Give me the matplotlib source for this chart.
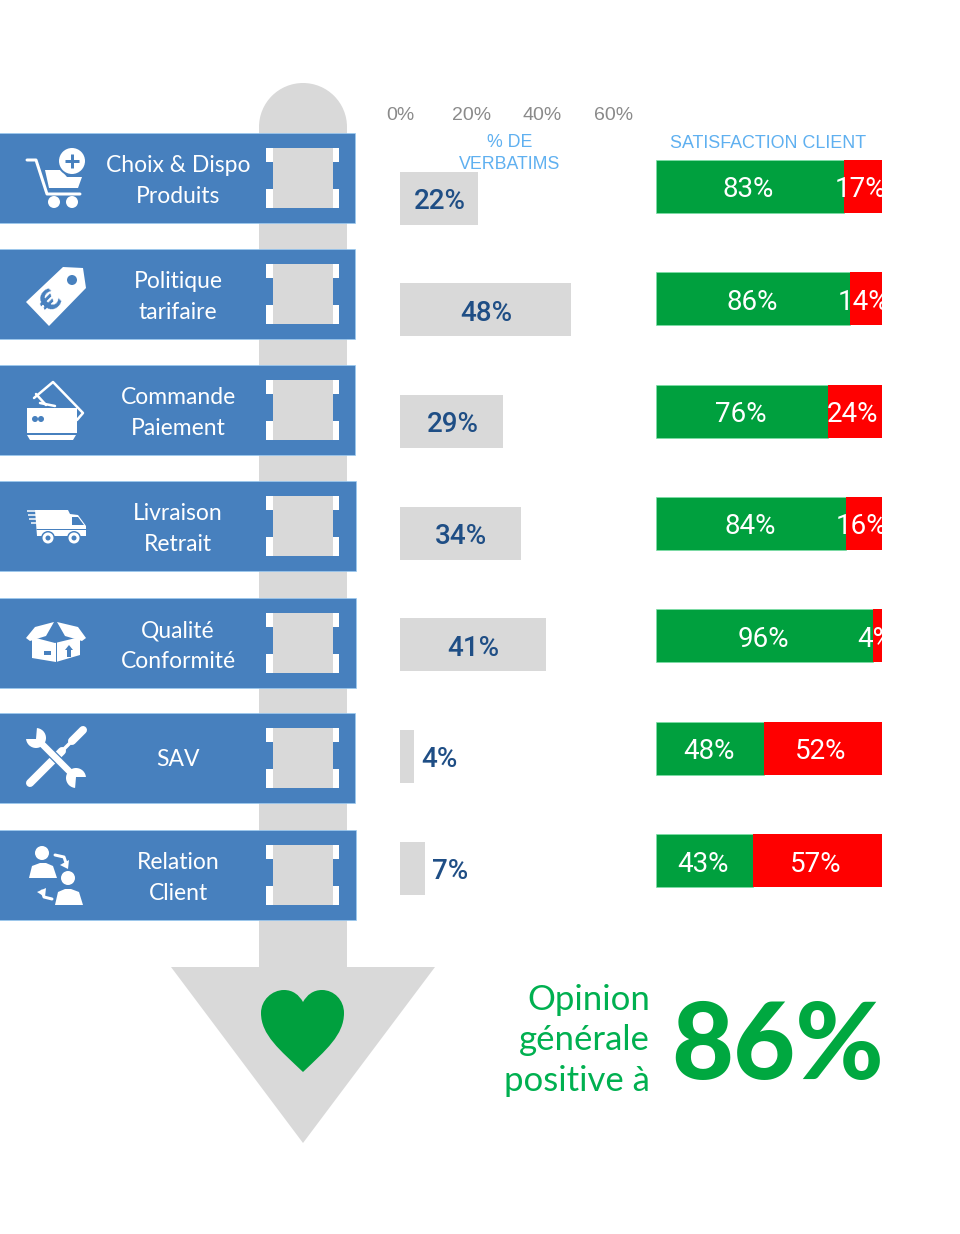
import numpy as np
from matplotlib import pyplot as plt
from matplotlib.patches import Rectangle, Polygon, Circle, Wedge, PathPatch
from matplotlib.path import Path

categories = ['Choix & Dispo\nProduits', 'Politique\ntarifaire', 'Commande\nPaiement',
              'Livraison\nRetrait', 'Qualité\nConformité', 'SAV', 'Relation\nClient']
verbatims = [22, 48, 29, 34, 41, 4, 7]
positive = [83, 86, 76, 84, 96, 48, 43]
negative = [17, 14, 24, 16, 4, 52, 57]
verbatim_ticks = [0, 20, 40, 60]
overall = 86

W, H = 960, 1234
GREY = '#D9D9D9'
BLUE = '#4780BE'
NAVY = '#1F4E85'
GREEN = '#00A03E'
RED = '#FF0000'
LIGHT = '#5FB0F0'
VALUE_FONT = 'Roboto'
VALUE_SIZE = 20


def pixel_axes(fig, left, top, right, bottom):
    ax = fig.add_axes([left / W, 1 - bottom / H, (right - left) / W, (bottom - top) / H])
    ax.patch.set_visible(False)
    for s in ax.spines.values():
        s.set_visible(False)
    return ax


def poly(ax, pts, color='white', z=5):
    ax.add_patch(Polygon(pts, closed=True, fc=color, ec='none', zorder=z))


def line(ax, xs, ys, width, color='white', z=5, cap='round'):
    ax.plot(xs, ys, color=color, lw=width * 0.72, zorder=z, solid_capstyle=cap, solid_joinstyle='round')


def dot(ax, x, y, r, color='white', z=5):
    ax.add_patch(Circle((x, y), r, fc=color, ec='none', zorder=z))


def icon_cart(ax):
    line(ax, [27, 36, 47, 80], [160, 160, 194, 194], 3)
    poly(ax, [(45, 170), (61, 170), (67, 177), (82, 177), (78, 188), (49, 188)])
    dot(ax, 72, 161, 15, BLUE, 6)
    dot(ax, 72, 161, 13, 'white', 7)
    line(ax, [65, 79], [161, 161], 3, BLUE, 8, 'butt')
    line(ax, [72, 72], [154, 168], 3, BLUE, 8, 'butt')
    dot(ax, 54, 202, 6)
    dot(ax, 72, 202, 6)


def icon_tag(ax):
    poly(ax, [(26, 302), (63, 267), (83, 268), (86, 288), (49, 326)])
    dot(ax, 72, 280, 5, BLUE, 6)
    ax.text(52, 302, '€', color=BLUE, fontsize=20, fontweight='bold', rotation=45,
            ha='center', va='center', zorder=6)


def icon_card(ax):
    line(ax, [34, 53, 83, 77], [398, 382, 413, 420], 2.5)
    line(ax, [40, 55], [403, 406], 2.5)
    line(ax, [36, 46], [394, 405], 2.5)
    ax.add_patch(Rectangle((27, 408), 50, 25, fc='white', ec='none', zorder=5))
    poly(ax, [(27, 435), (76, 435), (73, 440), (30, 440)])
    dot(ax, 35, 419, 3, BLUE, 6)
    dot(ax, 41, 419, 3, BLUE, 6)


def icon_truck(ax):
    poly(ax, [(35, 510), (68, 510), (70, 514), (78, 515), (86, 526), (86, 536), (37, 536)])
    poly(ax, [(72, 517), (78, 517), (84, 525), (72, 525)], BLUE, 6)
    line(ax, [36, 86], [529, 529], 1, BLUE, 6, 'butt')
    for y, x0 in zip([511, 515, 519, 523], [27, 28, 29, 31]):
        line(ax, [x0, 45], [y, y], 1.5, 'white', 4, 'butt')
    for x in (48, 74):
        dot(ax, x, 538, 7, BLUE, 6)
        dot(ax, x, 538, 5.5, 'white', 7)
        dot(ax, x, 538, 2.5, BLUE, 8)


def icon_box(ax):
    poly(ax, [(32, 637), (55, 643), (80, 637), (80, 655), (56, 662), (32, 658)])
    poly(ax, [(26, 638), (35, 627), (54, 622), (46, 636), (30, 641)])
    poly(ax, [(86, 638), (78, 627), (57, 622), (65, 636), (82, 641)])
    line(ax, [55.5, 55.5], [623, 662], 1, BLUE, 6, 'butt')
    poly(ax, [(69, 645), (73, 650), (71, 650), (71, 657), (67, 657), (67, 650), (65, 650)], BLUE, 6)
    ax.add_patch(Rectangle((44, 651), 7, 4, fc=BLUE, ec='none', zorder=6))


def icon_tools(ax):
    line(ax, [30, 62], [783, 751], 8)
    line(ax, [62, 72], [751, 741], 3.5)
    line(ax, [72, 83], [741, 730], 8)
    line(ax, [36, 78], [738, 780], 9, BLUE, 5.5)
    line(ax, [36, 78], [738, 780], 6.5, 'white', 6, 'butt')
    dot(ax, 36, 738, 10, 'white', 6)
    dot(ax, 76, 778, 10, 'white', 6)
    poly(ax, [(36, 739), (25, 739), (25, 727), (37, 727)], BLUE, 7)
    poly(ax, [(76, 777), (87, 777), (87, 789), (75, 789)], BLUE, 7)


def icon_people(ax):
    dot(ax, 42, 853, 7)
    poly(ax, [(29, 878), (32, 866), (40, 863), (46, 863), (53, 866), (57, 878)])
    dot(ax, 68, 878, 7)
    poly(ax, [(55, 905), (58, 892), (65, 889), (71, 889), (79, 892), (83, 905)])
    line(ax, [55, 64, 66], [855, 857, 863], 3)
    poly(ax, [(60, 865), (69, 860), (68, 869)])
    line(ax, [52, 44, 42], [899, 897, 891], 3)
    poly(ax, [(37, 892), (46, 888), (45, 897)])


icons = [icon_cart, icon_tag, icon_card, icon_truck, icon_box, icon_tools, icon_people]
band_tops = [133, 249, 365, 481, 598, 713, 830]
band_rights = [355, 355, 355, 356, 356, 355, 356]

fig = plt.figure(figsize=(W / 100, H / 100), dpi=100, facecolor='white')

# background shapes, in pixels
bg = pixel_axes(fig, 0, 0, W, H)
bg.set_xlim(0, W)
bg.set_ylim(H, 0)
bg.axis('off')

bg.add_patch(Rectangle((259, 127), 88, 850, fc=GREY, ec='none', zorder=1))
bg.add_patch(Wedge((303, 127), 44, 180, 360, fc=GREY, ec='none', zorder=1))
poly(bg, [(171, 967), (435, 967), (303, 1143)], GREY, 1)

# heart
heart = Path([(303, 1072), (280, 1050), (261, 1035), (261, 1013), (261, 1000), (272, 990), (284, 990),
              (293, 990), (299, 995), (303, 1002), (307, 995), (313, 990), (322, 990),
              (334, 990), (344, 1000), (344, 1013), (344, 1035), (326, 1050), (303, 1072)],
             [Path.MOVETO] + [Path.CURVE4] * 18)
bg.add_patch(PathPatch(heart, fc=GREEN, ec='none', zorder=2))

for i, top in enumerate(band_tops):
    bg.add_patch(Rectangle((-3, top), band_rights[i] + 3, 90, fc=BLUE, ec='#9CCBF2', lw=0.5, zorder=3))
    # white notched frame
    for x in (266, 332):
        bg.add_patch(Rectangle((x, top + 15), 6.5, 14, fc='white', ec='none', zorder=4))
        bg.add_patch(Rectangle((x, top + 56), 6.5, 19, fc='white', ec='none', zorder=4))
    bg.add_patch(Rectangle((272.5, top + 15), 60, 60, fc=GREY, ec='none', zorder=4))
    y_text = top + 48 if '\n' in categories[i] else top + 46
    bg.text(178, y_text, categories[i], color='white', fontsize=16.5, family='Lato',
            ha='center', va='center', linespacing=1.55, zorder=6)
    icons[i](bg)

# share of verbatims
ax1 = pixel_axes(fig, 400, 142.2, 400 + 60 * 3.56, 924)
rows = np.arange(len(categories))
ax1.barh(rows, verbatims, height=53 / 111.67, color=GREY)
ax1.set_xlim(0, 60)
ax1.set_ylim(6.5, -0.5)
ax1.xaxis.tick_top()
ax1.set_xticks(verbatim_ticks)
ax1.set_xticklabels(['%d%%' % t for t in verbatim_ticks], color='#8A8A8A', fontsize=14, family='Liberation Sans')
ax1.tick_params(axis='x', length=0, pad=13)
ax1.set_yticks([])
for r, v in zip(rows, verbatims):
    if v < 10:
        ax1.text(v + 1.9, r + 0.03, '%d%%' % v, color=NAVY, fontsize=VALUE_SIZE, family=VALUE_FONT,
                 fontweight='medium', ha='left', va='center')
    else:
        ax1.text(v / 2 + 0.2, r + 0.03, '%d%%' % v, color=NAVY, fontsize=VALUE_SIZE, family=VALUE_FONT,
                 fontweight='medium', ha='center', va='center')

# client satisfaction
ax2 = pixel_axes(fig, 656, 130, 882, 917)
ax2.barh(rows, positive, height=53 / 112.5, color=GREEN, edgecolor='#7CE0A8', linewidth=0.5)
ax2.barh(rows, negative, left=positive, height=53 / 112.5, color=RED)
ax2.set_xlim(0, 100)
ax2.set_ylim(6.5, -0.5)
ax2.set_xticks([])
ax2.set_yticks([])
for r, p, n in zip(rows, positive, negative):
    ax2.text(p / 2 - 0.5, r + 0.03, '%d%%' % p, color='white', fontsize=VALUE_SIZE, family=VALUE_FONT,
             ha='center', va='center')
    # the small red segments cut their label at the bar end
    ax2.text(p + n / 2 - 1, r + 0.03, '%d%%' % n, color='white', fontsize=VALUE_SIZE, family=VALUE_FONT,
             ha='center', va='center', clip_on=True)

# headers and conclusion
bg.text(510, 153.5, '% DE\nVERBATIMS', color=LIGHT, fontsize=12.8, family='Liberation Sans',
        ha='center', va='center', linespacing=1.4, zorder=7)
bg.text(768, 144, 'SATISFACTION CLIENT', color=LIGHT, fontsize=12.9, family='Liberation Sans',
        ha='center', va='center', zorder=7)
bg.text(650, 1040.5, 'Opinion\ngénérale\npositive à', color='#00B050', fontsize=25, family='Lato',
        ha='right', va='center', linespacing=1.33, zorder=7)
bg.text(778, 1048, '%d%%' % overall, color='#00A840', fontsize=77, family='Lato', fontweight='black',
        ha='center', va='center', zorder=7)

fig.savefig('out.png', dpi=100)
